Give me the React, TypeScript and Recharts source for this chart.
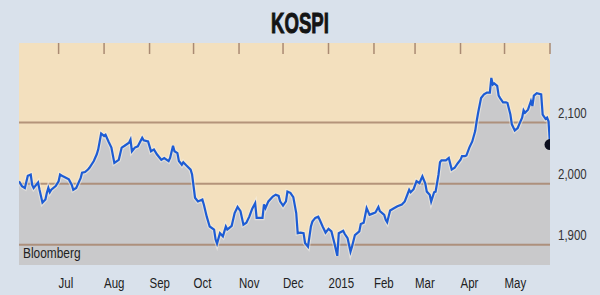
import { Area, CartesianGrid, ComposedChart, Line, ReferenceLine, XAxis, YAxis } from "recharts";

// days counted from 1 Jul 2014
const monthStarts = [0, 31, 62, 92, 123, 153, 184, 215, 243, 274, 304, 335];
const monthLabels = ["Jul", "Aug", "Sep", "Oct", "Nov", "Dec", "2015", "Feb", "Mar", "Apr", "May"];
const levels = [1900, 2000, 2100];
const levelLabels = ["1,900", "2,000", "2,100"];

const dayOffsets = [
  -27, -25, -23, -21, -19, -18, -17, -16, -14, -13, -11, -9, -8, -7, -6, -5, -2, 0, 1, 3, 7, 9, 10, 12, 15, 16,
  18, 20, 21, 24, 26, 27, 29, 31, 32, 34, 36, 38, 41, 43, 45, 48, 49, 50, 52, 54, 57, 58, 61, 63, 65, 67, 70, 72,
  75, 76, 78, 79, 81, 82, 84, 85, 87, 90, 91, 92, 93, 95, 98, 99, 101, 103, 106, 107, 108, 110, 112, 114, 115,
  116, 118, 120, 122, 124, 126, 128, 130, 132, 134, 135, 137, 139, 140, 141, 143, 146, 148, 150, 151, 153, 155,
  156, 158, 160, 162, 163, 165, 167, 168, 170, 172, 173, 175, 177, 178, 180, 182, 184, 186, 188, 190, 191, 194,
  195, 197, 199, 200, 202, 205, 206, 208, 210, 212, 214, 216, 218, 219, 222, 223, 224, 226, 228, 231, 234, 236,
  239, 240, 242, 244, 246, 248, 250, 251, 253, 254, 256, 257, 259, 260, 261, 264, 266, 268, 270, 272, 274, 275,
  277, 278, 280, 282, 284, 285, 286, 288, 290, 292, 294, 295, 296, 297, 299, 300, 301, 303, 305, 306, 308, 309,
  311, 313, 314, 316, 317, 318, 320, 322, 323, 324, 326, 329, 330, 332, 333, 334, 335,
];
const kospi = [
  2004, 1996, 1993, 2013, 2015, 1998, 1993, 1996, 2002, 1990, 1969, 1974, 1985, 1993, 1986, 1990, 1996, 2004, 2015,
  2012, 2007, 1998, 1990, 1993, 2009, 2018, 2019, 2023, 2026, 2037, 2048, 2056, 2082, 2078, 2080, 2069, 2059, 2034,
  2039, 2059, 2062, 2067, 2072, 2053, 2059, 2061, 2075, 2071, 2069, 2053, 2056, 2048, 2039, 2042, 2037, 2042, 2062,
  2053, 2050, 2037, 2031, 2035, 2030, 2023, 2015, 1996, 1977, 1971, 1974, 1966, 1946, 1930, 1925, 1909, 1902, 1919,
  1914, 1930, 1925, 1927, 1931, 1952, 1962, 1955, 1933, 1936, 1946, 1959, 1968, 1944, 1944, 1944, 1966, 1960, 1971,
  1979, 1982, 1980, 1971, 1964, 1971, 1987, 1985, 1978, 1952, 1919, 1920, 1919, 1903, 1897, 1930, 1938, 1944, 1946,
  1941, 1930, 1920, 1926, 1922, 1903, 1882, 1919, 1923, 1918, 1911, 1889, 1897, 1916, 1922, 1934, 1936, 1960, 1949,
  1951, 1953, 1962, 1955, 1949, 1941, 1937, 1956, 1959, 1963, 1966, 1971, 1990, 1986, 1991, 2004, 2001, 2012, 2000,
  1987, 1982, 1971, 1986, 1987, 2015, 2035, 2038, 2038, 2042, 2023, 2026, 2033, 2039, 2045, 2045, 2046, 2059, 2069,
  2086, 2102, 2116, 2140, 2146, 2149, 2149, 2173, 2162, 2164, 2160, 2144, 2140, 2133, 2133, 2132, 2113, 2097, 2087,
  2091, 2097, 2108, 2120, 2116, 2121, 2135, 2127, 2144, 2148, 2146, 2113, 2106, 2108, 2102, 2064,
];

const data = dayOffsets.map((day, i) => ({ day, close: kospi[i] }));
const lastIndex = data.length - 1;

const sans = "'Liberation Sans', Arial, sans-serif";

function MonthTick({ x, y, payload }: any) {
  return (
    <text
      transform={`translate(${x},${y + 21}) scale(0.82,1)`}
      textAnchor="start"
      fontSize={14}
      fill="#222"
      fontFamily={sans}
    >
      {monthLabels[monthStarts.indexOf(payload.value)]}
    </text>
  );
}

function LevelTick({ x, y, payload }: any) {
  return (
    <text
      transform={`translate(${x + 6},${y - 5}) scale(0.82,1)`}
      textAnchor="start"
      fontSize={14}
      fill="#333"
      fontFamily={sans}
    >
      {levelLabels[levels.indexOf(payload.value)]}
    </text>
  );
}

function NoTick() {
  return <g />;
}

// last point sits on the right edge: only its left half shows
function LastDot({ cx, cy, index }: any) {
  if (index !== lastIndex) return <g key={`d${index}`} />;
  const r = 5.5;
  return <path key="last" d={`M${cx},${cy - r} A${r},${r} 0 0 0 ${cx},${cy + r} Z`} fill="#0c0f1e" />;
}

export default function App() {
  return (
    <div style={{ position: "absolute", left: 0, top: 0, width: 600, height: 295, background: "#d9e1eb" }}>
      <div
        style={{
          position: "absolute",
          left: 0,
          width: 600,
          top: 8,
          textAlign: "center",
          fontFamily: sans,
          fontWeight: 700,
          fontSize: 30,
          lineHeight: "30px",
          color: "#141414",
          transform: "scaleX(0.62)",
          WebkitTextStroke: "1px #141414",
        }}
      >
        KOSPI
      </div>
      <ComposedChart width={600} height={295} data={data} margin={{ top: 43, right: 0, bottom: 0, left: 19 }}>
        <CartesianGrid horizontal={false} vertical={false} fill="#f3e0be" stroke="none" />
        <XAxis
          xAxisId="top"
          orientation="top"
          dataKey="day"
          type="number"
          domain={[-27, 335]}
          allowDataOverflow
          ticks={monthStarts}
          height={1}
          mirror
          tick={NoTick}
          tickSize={11}
          tickLine={{ stroke: "#a98a73", strokeWidth: 1.5 }}
          axisLine={false}
        />
        <XAxis
          dataKey="day"
          type="number"
          domain={[-27, 335]}
          allowDataOverflow
          ticks={monthStarts.slice(0, monthLabels.length)}
          height={30}
          tickSize={0}
          tickLine={false}
          axisLine={false}
          tick={MonthTick}
        />
        <YAxis
          orientation="right"
          type="number"
          domain={[1867, 2230]}
          allowDataOverflow
          ticks={levels}
          width={50}
          tickSize={0}
          tickLine={false}
          axisLine={false}
          tick={LevelTick}
        />
        <Area dataKey="close" type="linear" fill="#c9c9cb" fillOpacity={1} stroke="none" isAnimationActive={false} />
        {levels.map((v) => (
          <ReferenceLine key={v} y={v} stroke="#a8866e" strokeWidth={2} strokeOpacity={0.85} />
        ))}
        <Line dataKey="close" type="linear" stroke="#f4f1e8" strokeOpacity={0.55} strokeWidth={4.5} dot={false} isAnimationActive={false} />
        <Line dataKey="close" type="linear" stroke="#1d5cd4" strokeWidth={2.2} dot={LastDot} isAnimationActive={false} />
      </ComposedChart>
      <div
        style={{
          position: "absolute",
          left: 23,
          top: 246,
          fontFamily: sans,
          fontSize: 14.5,
          lineHeight: 1,
          color: "#222",
          transform: "scaleX(0.82)",
          transformOrigin: "left top",
        }}
      >
        Bloomberg
      </div>
    </div>
  );
}
